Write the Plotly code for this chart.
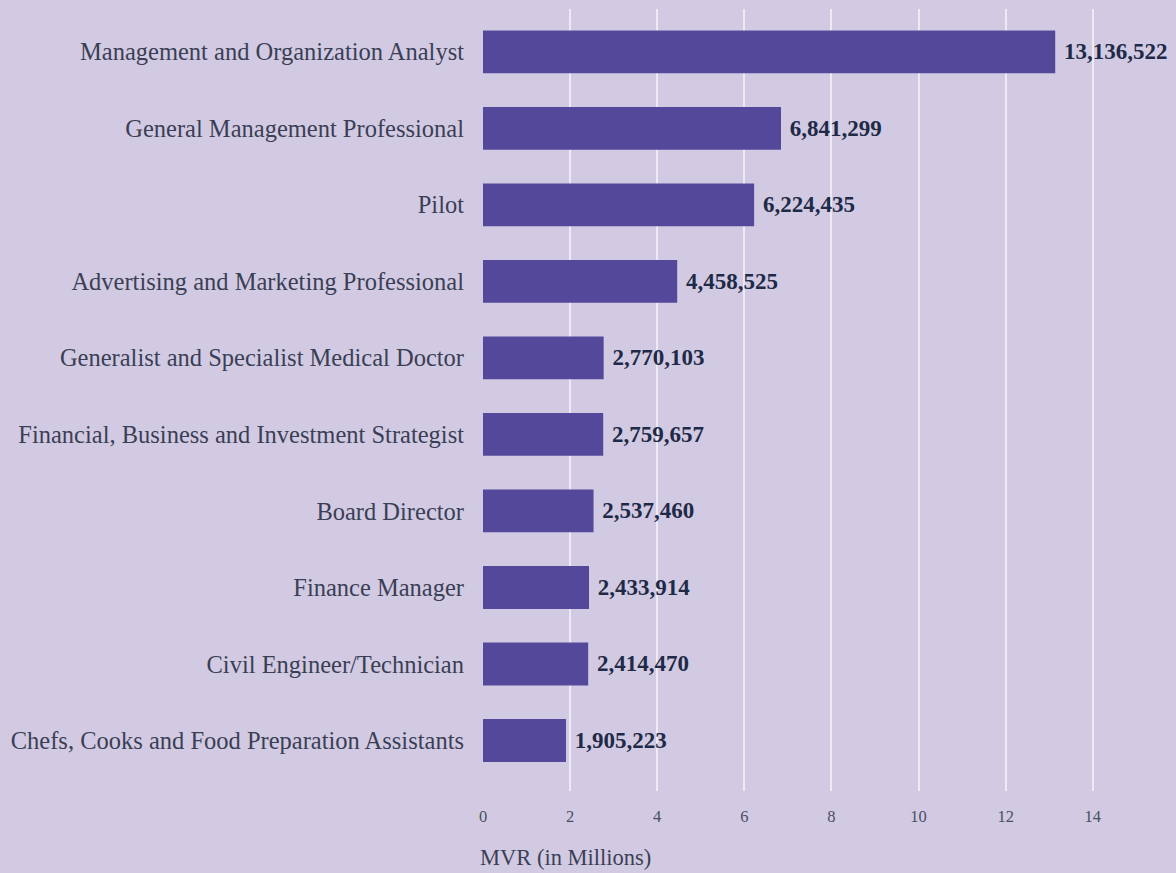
import plotly.graph_objects as go

categories = [
    "Management and Organization Analyst",
    "General Management Professional",
    "Pilot",
    "Advertising and Marketing Professional",
    "Generalist and Specialist Medical Doctor",
    "Financial, Business and Investment Strategist",
    "Board Director",
    "Finance Manager",
    "Civil Engineer/Technician",
    "Chefs, Cooks and Food Preparation Assistants",
]
values = [13136522, 6841299, 6224435, 4458525, 2770103, 2759657, 2537460, 2433914, 2414470, 1905223]
tick_vals = [0, 2, 4, 6, 8, 10, 12, 14]

millions = [v / 1e6 for v in values]
labels = ["\u00a0" + f"{v:,}" for v in values]

BG = "#D2CAE2"
BAR = "#53489A"
FONT = "Liberation Serif"

fig = go.Figure(go.Bar(
    x=millions,
    y=categories,
    orientation="h",
    marker=dict(color=BAR, line=dict(width=0)),
    width=0.56,
    text=labels,
    textposition="outside",
    cliponaxis=False,
    textfont=dict(family=FONT, size=23, color="#1E2A47", weight="bold"),
    hoverinfo="skip",
))

fig.update_layout(
    width=1176, height=873,
    margin=dict(l=483, r=10, t=9, b=82, autoexpand=False),
    paper_bgcolor=BG, plot_bgcolor=BG,
    showlegend=False,
    font=dict(family=FONT, color="#3A3F55"),
    xaxis=dict(
        range=[0, 15.68],
        tickvals=tick_vals,
        ticktext=[str(t) for t in tick_vals],
        showgrid=True, gridcolor="#EEEAF4", gridwidth=2,
        zeroline=False, showline=False,
        ticks="", ticklabelstandoff=13,
        tickfont=dict(family=FONT, size=16.5, color="#4A4F63"),
    ),
    yaxis=dict(
        categoryorder="array", categoryarray=categories,
        range=[9.66, -0.56],
        showgrid=False, zeroline=False, showline=False,
        ticks="", ticklabelstandoff=18,
        tickfont=dict(family=FONT, size=24.5, color="#3A3F55"),
    ),
    annotations=[dict(
        text="MVR (in Millions)", xref="paper", yref="paper",
        x=0, y=-0.085, xanchor="left", yanchor="middle", xshift=-5,
        showarrow=False, font=dict(family=FONT, size=22.5, color="#3A3F55"),
    )],
)

fig.write_html(
    "out.html",
    config={"displayModeBar": False},
    post_script="document.body.style.margin='0';document.body.style.overflow='hidden';",
)
